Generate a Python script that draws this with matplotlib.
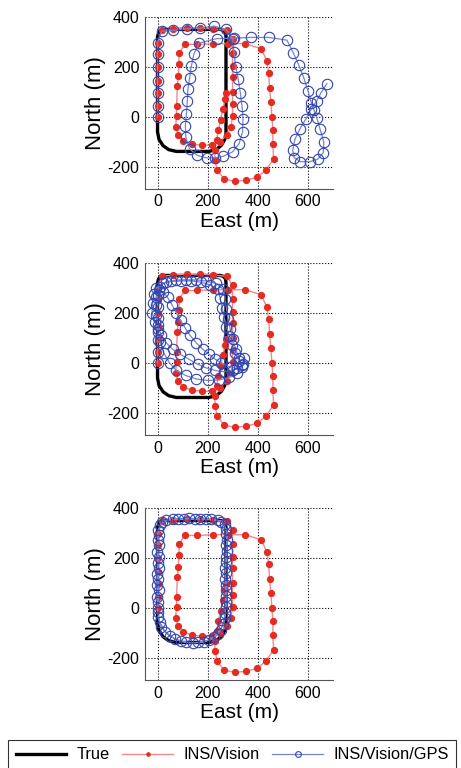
import matplotlib
matplotlib.use("Agg")
import matplotlib.pyplot as plt

plt.rcParams['font.family'] = ['Liberation Sans', 'DejaVu Sans']
plt.rcParams['axes.unicode_minus'] = False

# True trajectory (one loop, driven twice)
true_x = [0, 0, 4, 12, 28, 250, 264, 271, 273, 273, 268, 255, 235, 205, 75, 45, 22, 6, 0, 0]
true_y = [0, 320, 336, 346, 350, 350, 346, 336, 322, -65, -90, -113, -130, -138, -138, -131, -115, -90, -60, 0]

# INS/Vision (same in all three panels)
ins_x = [0, 0, 0, 0, 0, 0, 0, 16, 63, 116, 169, 223, 276,
         299, 299, 299, 299, 299, 299, 299, 293, 276, 249, 216, 176, 136, 103, 83, 72,
         76, 76, 79, 83, 85, 87, 109, 156, 223, 283, 349, 413, 436, 443, 447, 452, 456,
         460, 460, 463, 432, 396, 352, 308, 265, 238, 229, 229, 236, 243, 252, 260, 269, 273]
ins_y = [0, 45, 95, 143, 200, 250, 296, 346, 352, 355, 355, 352, 346,
         310, 257, 204, 158, 98, 52, 5, -41, -73, -99, -113, -113, -109, -95, -73, -40,
         5, 45, 122, 164, 211, 257, 290, 290, 293, 293, 293, 273, 224, 177, 114, 58, 1,
         -54, -110, -167, -213, -242, -253, -258, -248, -212, -172, -132, -91, -51, -11, 30, 70, 97]

# INS/Vision/GPS, panel 1
gps1_x = [0, 0, 0, 0, 0, 0, 0, 16, 63, 116, 169, 227, 273,
          300, 305, 312, 322, 330, 337, 341, 339, 325, 299,
          263, 229, 196, 159, 128, 113, 111, 115, 119, 121, 128, 135, 145, 165,
          236, 303, 371, 443, 516, 541, 563, 583, 600, 613, 624, 635, 648, 663, 661,
          639, 607, 570, 545, 539, 548, 567, 591, 613, 635, 652, 675]
gps1_y = [0, 45, 95, 143, 200, 250, 296, 343, 346, 352, 355, 363, 350,
          313, 258, 200, 150, 97, 44, -9, -60, -107, -140,
          -157, -164, -164, -154, -128, -82, -36, 11, 64, 110, 156, 203, 252, 295,
          313, 315, 318, 318, 307, 257, 208, 157, 104, 57, 27, -3, -49, -99, -143,
          -169, -179, -179, -163, -133, -89, -49, -9, 31, 64, 97, 133]

# INS/Vision/GPS, panel 2
gps2_x = [0, 0, 0, 0, 0, 0, 0, 8, 35, 75, 115, 155, 195, 235, 262, 270, 275, 282, 290, 300,
          312, 325, 335, 318, 285, 245, 200, 155, 112, 75, 48,
          25, 10, 0, -10, -22, -20, -15, -5, 20, 55, 95, 135, 175, 210, 240,
          250, 258, 266, 275, 285, 297, 310, 325, 335, 300,
          265, 230, 195, 160, 125, 90, 60, 35, 15, 2, -5, -8, -5, 5,
          22, 40, 58, 75, 92, 110, 130, 155, 180, 205, 230, 255, 285, 315, 340, 345]
gps2_y = [0, 45, 90, 135, 180, 225, 270, 305, 325, 332, 333, 332, 328, 318, 295, 255, 215, 175, 135, 95,
          55, 20, -10, -42, -58, -68, -70, -64, -50, -30, 0,
          40, 85, 125, 165, 200, 240, 275, 300, 318, 326, 328, 328, 323, 312, 295,
          258, 220, 182, 145, 108, 72, 38, 8, -18, -30,
          -35, -30, -20, -5, 15, 35, 55, 80, 110, 150, 190, 230, 265, 292,
          285, 262, 232, 200, 170, 140, 110, 80, 55, 35, 15, 0, -15, -22, -5, 20]

# INS/Vision/GPS, panel 3 (two laps)
gps3_x = [0, -2, -3, -2, 0, -2, 0, 2, 18, 60, 105, 150, 195, 240, 268, 275, 274, 272, 270, 270,
          272, 272, 270, 262, 240, 205, 160, 115, 70, 30, 8, 0,
          3, 5, 3, 5, 4, 6, 4, 10, 35, 80, 125, 170, 215, 255, 275, 278, 276, 274, 272, 274,
          275, 273, 268, 252, 225, 185, 140, 92, 48, 15, 2]
gps3_y = [0, 45, 90, 135, 180, 225, 270, 310, 345, 355, 357, 357, 355, 352, 335, 295, 250, 205, 160, 115,
          70, 25, -20, -65, -105, -130, -138, -138, -125, -95, -55, -15,
          25, 70, 115, 160, 205, 250, 290, 330, 352, 357, 358, 357, 354, 345, 315, 272, 228, 183, 138, 92,
          47, 2, -42, -88, -118, -136, -140, -134, -112, -78, -35]

gps_x = [gps1_x, gps2_x, gps3_x]
gps_y = [gps1_y, gps2_y, gps3_y]

x_ticks = [0, 200, 400, 600]
y_ticks = [-200, 0, 200, 400]

fig = plt.figure(figsize=(4.61, 7.68), dpi=100)
bottoms = [0.754, 0.4336, 0.1146]

for i in range(3):
    ax = fig.add_axes([0.3145, bottoms[i], 0.408, 0.224])
    ax.plot(true_x, true_y, color='black', lw=2.4, label='True', zorder=3)
    ax.plot(ins_x, ins_y, '-o', color='#f28a8a', lw=1.0, ms=4.2,
            mfc='#e52b22', mec='#e52b22', label='INS/Vision', zorder=4)
    ax.plot(gps_x[i], gps_y[i], '-o', color='#7684d2', lw=0.9, ms=7.5,
            mfc='none', mec='#3345b0', mew=0.8, label='INS/Vision/GPS', zorder=5)
    ax.set_xlim(-50, 700)
    ax.set_ylim(-288, 400)
    ax.set_xticks(x_ticks)
    ax.set_yticks(y_ticks)
    ax.grid(True, color='black', linestyle=':', lw=0.8)
    ax.set_axisbelow(True)
    ax.spines['top'].set_visible(False)
    ax.spines['right'].set_visible(False)
    ax.spines['left'].set_color('#555555')
    ax.spines['bottom'].set_color('#555555')
    ax.tick_params(direction='in', length=0, labelsize=11.5, pad=4)
    ax.set_xlabel('East (m)', fontsize=15, labelpad=2)
    ax.set_ylabel('North (m)', fontsize=16, labelpad=1)

handles, labels = ax.get_legend_handles_labels()
leg = fig.legend(handles, labels, loc='upper left', bbox_to_anchor=(0.0, 0.047),
                 ncol=3, fontsize=11.8, frameon=True, fancybox=False,
                 handlelength=3.1, handletextpad=0.6, columnspacing=0.8,
                 borderpad=0.45, markerscale=0.55)
leg.get_frame().set_edgecolor('black')
leg.get_frame().set_linewidth(0.8)

fig.savefig('out.png', dpi=100)
